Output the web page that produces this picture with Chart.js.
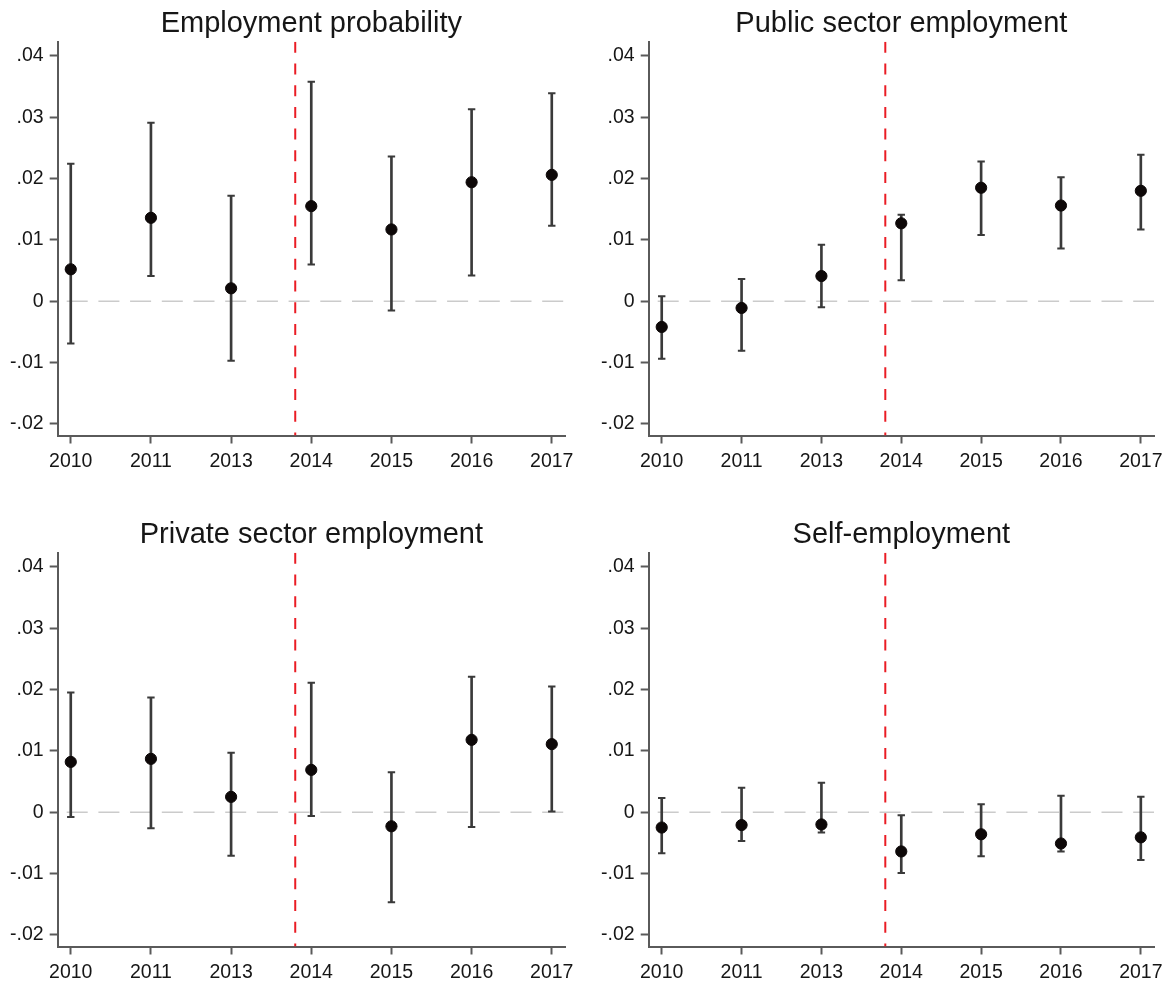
<!DOCTYPE html>
<html>
<head>
<meta charset="utf-8">
<title>Event-study estimates by employment outcome</title>
<script src="https://cdn.jsdelivr.net/npm/chart.js@4.4.1/dist/chart.umd.min.js"></script>
<style>
  html, body { margin: 0; padding: 0; background: #ffffff; }
  #wrap { position: relative; width: 1174px; height: 984px; overflow: hidden; }
  #wrap canvas { position: absolute; }
</style>
</head>
<body>
<div id="wrap">
  <canvas id="c1" width="585" height="480" style="left:0px;top:0px"></canvas>
  <canvas id="c2" width="583" height="480" style="left:591px;top:0px"></canvas>
  <canvas id="c3" width="585" height="480" style="left:0px;top:511px"></canvas>
  <canvas id="c4" width="583" height="480" style="left:591px;top:511px"></canvas>
</div>
<script>
// Survey years on the horizontal axis (2012 not observed)
const years = ['2010', '2011', '2013', '2014', '2015', '2016', '2017'];
const yTicks = [-0.02, -0.01, 0, 0.01, 0.02, 0.03, 0.04];

// Point estimates with lower / upper confidence bounds
const empEst = [0.0052, 0.0136, 0.0021, 0.0155, 0.0117, 0.0194, 0.0206];
const empLo  = [-0.0069, 0.0041, -0.0097, 0.0060, -0.0015, 0.0042, 0.0123];
const empHi  = [0.0224, 0.0291, 0.0172, 0.0358, 0.0236, 0.0313, 0.0339];

const pubEst = [-0.0042, -0.0011, 0.0041, 0.0127, 0.0185, 0.0156, 0.0180];
const pubLo  = [-0.0094, -0.0081, -0.0010, 0.0034, 0.0108, 0.0086, 0.0117];
const pubHi  = [0.0008, 0.0036, 0.0092, 0.0141, 0.0228, 0.0202, 0.0239];

const privEst = [0.0082, 0.0087, 0.0025, 0.0069, -0.0023, 0.0118, 0.0111];
const privLo  = [-0.0008, -0.0026, -0.0071, -0.0006, -0.0147, -0.0024, 0.0001];
const privHi  = [0.0195, 0.0187, 0.0097, 0.0211, 0.0065, 0.0221, 0.0205];

const selfEst = [-0.0025, -0.0021, -0.0020, -0.0064, -0.0036, -0.0051, -0.0041];
const selfLo  = [-0.0067, -0.0047, -0.0033, -0.0099, -0.0072, -0.0064, -0.0078];
const selfHi  = [0.0023, 0.0040, 0.0048, -0.0005, 0.0013, 0.0027, 0.0025];

// Reform marker sits between the 2013 and 2014 waves
const policyBreak = 2.8;
const zeroRef = 0;

// Axis extents
const xMin = -0.163, xMax = 6.165;
const yMin = -0.0219, yMax = 0.0423;

const FONT = '"Liberation Sans", Arial, Helvetica, sans-serif';
const AXIS_COLOR = '#5a5a5a';
const BAR_COLOR = '#3a3a3a';
const TEXT_COLOR = '#161616';

function fmtY(v) {
  if (Math.abs(v) < 1e-12) return '0';
  const s = Math.abs(v).toFixed(2).replace(/^0/, '');
  return (v < 0 ? '-' : '') + s;
}

function makePanel(id, title, est, lo, hi) {
  const idx = years.map((_, i) => i);
  new Chart(document.getElementById(id), {
    type: 'scatter',
    data: {
      datasets: [
        {
          label: 'estimate',
          data: idx.map(i => ({ x: i, y: est[i] })),
          pointRadius: 5.6,
          pointBackgroundColor: '#0d0808',
          pointBorderColor: '#0d0808',
          pointBorderWidth: 1,
          order: 0
        },
        {
          label: 'upper',
          data: idx.map(i => ({ x: i, y: hi[i] })),
          pointStyle: 'line',
          pointRadius: 3.7,
          pointBorderColor: BAR_COLOR,
          pointBorderWidth: 2,
          order: 1
        },
        {
          label: 'lower',
          data: idx.map(i => ({ x: i, y: lo[i] })),
          pointStyle: 'line',
          pointRadius: 3.7,
          pointBorderColor: BAR_COLOR,
          pointBorderWidth: 2,
          order: 1
        },
        {
          type: 'bar',
          label: 'interval',
          data: idx.map(i => ({ x: i, y: [lo[i], hi[i]] })),
          barThickness: 2,
          backgroundColor: BAR_COLOR,
          borderWidth: 0,
          order: 2
        },
        {
          type: 'line',
          label: 'reform',
          data: [{ x: policyBreak, y: yMax }, { x: policyBreak, y: yMin }],
          borderColor: '#ea1c24',
          borderWidth: 2,
          borderDash: [11, 10.7],
          pointRadius: 0,
          fill: false,
          order: 3
        },
        {
          type: 'line',
          label: 'zero',
          data: [{ x: xMin, y: zeroRef }, { x: xMax, y: zeroRef }],
          borderColor: '#cbcbcb',
          borderWidth: 1.5,
          borderDash: [21, 10.7],
          borderDashOffset: -9,
          pointRadius: 0,
          fill: false,
          order: 4
        }
      ]
    },
    options: {
      responsive: false,
      animation: false,
      devicePixelRatio: 1,
      layout: { padding: { left: 0, right: 20, top: 0, bottom: 0 } },
      plugins: {
        legend: { display: false },
        tooltip: { enabled: false },
        title: {
          display: true,
          fullSize: false,   // centre the heading over the plot area
          text: title,
          color: TEXT_COLOR,
          font: { family: FONT, size: 29, weight: 'normal', lineHeight: 1.2 },
          padding: { top: 7, bottom: 0 }
        }
      },
      scales: {
        x: {
          type: 'linear',
          min: xMin,
          max: xMax,
          offset: false,
          afterBuildTicks: s => { s.ticks = years.map((_, i) => ({ value: i })); },
          afterFit: s => { s.height = 44.5; },
          ticks: {
            callback: v => years[v],
            color: TEXT_COLOR,
            font: { family: FONT, size: 19.5 },
            padding: 6,
            maxRotation: 0,
            autoSkip: false
          },
          grid: {
            offset: false,
            drawOnChartArea: false,
            drawTicks: true,
            tickLength: 8,
            tickWidth: 2,
            tickColor: AXIS_COLOR
          },
          border: { display: true, color: AXIS_COLOR, width: 2 }
        },
        y: {
          type: 'linear',
          min: yMin,
          max: yMax,
          afterBuildTicks: s => { s.ticks = yTicks.map(v => ({ value: v })); },
          afterFit: s => { s.width = 57.7; },
          ticks: {
            callback: v => fmtY(v),
            color: TEXT_COLOR,
            font: { family: FONT, size: 19.5 },
            padding: 6,
            autoSkip: false
          },
          grid: {
            drawOnChartArea: false,
            drawTicks: true,
            tickLength: 8,
            tickWidth: 2,
            tickColor: AXIS_COLOR
          },
          border: { display: true, color: AXIS_COLOR, width: 2 }
        }
      }
    }
  });
}

makePanel('c1', 'Employment probability', empEst, empLo, empHi);
makePanel('c2', 'Public sector employment', pubEst, pubLo, pubHi);
makePanel('c3', 'Private sector employment', privEst, privLo, privHi);
makePanel('c4', 'Self-employment', selfEst, selfLo, selfHi);
</script>
</body>
</html>
